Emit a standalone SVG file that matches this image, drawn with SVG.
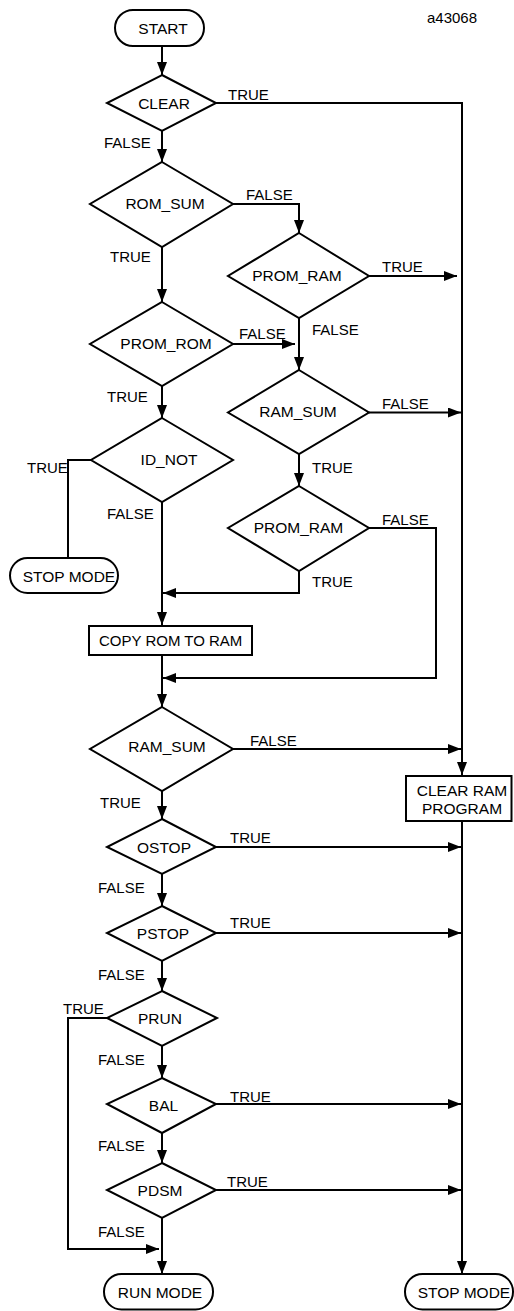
<svg xmlns="http://www.w3.org/2000/svg" width="514" height="1311" viewBox="0 0 514 1311">
<style>
.s{fill:#fff;stroke:#000;stroke-width:2}
.c{fill:none;stroke:#000;stroke-width:2}
.a{marker-end:url(#ah)}
text{font-family:"Liberation Sans",Arial,sans-serif;fill:#000}
.n{font-size:15.5px;text-anchor:middle}
.l{font-size:15px}
</style>
<defs>
<marker id="ah" markerUnits="userSpaceOnUse" markerWidth="13" markerHeight="10" refX="13" refY="5" orient="auto">
<path d="M0,0 L13,5 L0,10 z" fill="#000"/>
</marker>
</defs>
<rect width="514" height="1311" fill="#fff"/>
<text class="l" x="427" y="23">a43068</text>
<g id="connectors">
<path class="c a" d="M162,46 V75"/>
<path class="c" d="M216,103 H462 V775"/>
<path class="c a" d="M462,765 V775"/>
<path class="c a" d="M162,131 V162"/>
<path class="c a" d="M233,204 H299 V233"/>
<path class="c a" d="M162,247 V302"/>
<path class="c a" d="M369,276 H457"/>
<path class="c a" d="M233,344 H295"/>
<path class="c a" d="M299,318 V370"/>
<path class="c a" d="M369,412.5 H461"/>
<path class="c a" d="M162,386 V418"/>
<path class="c a" d="M299,454 V486"/>
<path class="c" d="M91,460 H68 V558"/>
<path class="c a" d="M162,502 V625"/>
<path class="c a" d="M299,571 V593 H163"/>
<path class="c a" d="M369,528 H436 V678 H163"/>
<path class="c a" d="M162,655 V707"/>
<path class="c a" d="M233,749 H461"/>
<path class="c a" d="M162,791 V819"/>
<path class="c a" d="M216,847 H461"/>
<path class="c a" d="M462,821 V1274"/>
<path class="c a" d="M162,874 V906"/>
<path class="c a" d="M216,933 H461"/>
<path class="c a" d="M162,961 V991"/>
<path class="c a" d="M107,1018 H68 V1249 H159"/>
<path class="c a" d="M162,1046 V1078"/>
<path class="c a" d="M216,1104 H461"/>
<path class="c a" d="M162,1133 V1163"/>
<path class="c a" d="M216,1190 H461"/>
<path class="c a" d="M162,1218 V1274"/>
</g>
<g id="labels">
<text class="l" x="228" y="100">TRUE</text>
<text class="l" x="104" y="148">FALSE</text>
<text class="l" x="246" y="200">FALSE</text>
<text class="l" x="382" y="272">TRUE</text>
<text class="l" x="110" y="262">TRUE</text>
<text class="l" x="239" y="339">FALSE</text>
<text class="l" x="312" y="335">FALSE</text>
<text class="l" x="382" y="409">FALSE</text>
<text class="l" x="107" y="402">TRUE</text>
<text class="l" x="27" y="473">TRUE</text>
<text class="l" x="107" y="519">FALSE</text>
<text class="l" x="312" y="473">TRUE</text>
<text class="l" x="382" y="525">FALSE</text>
<text class="l" x="312" y="587">TRUE</text>
<text class="l" x="250" y="746">FALSE</text>
<text class="l" x="100" y="808">TRUE</text>
<text class="l" x="230" y="843">TRUE</text>
<text class="l" x="98" y="893">FALSE</text>
<text class="l" x="230" y="928">TRUE</text>
<text class="l" x="98" y="980">FALSE</text>
<text class="l" x="63" y="1014">TRUE</text>
<text class="l" x="98" y="1065">FALSE</text>
<text class="l" x="230" y="1102">TRUE</text>
<text class="l" x="98" y="1151">FALSE</text>
<text class="l" x="227" y="1187">TRUE</text>
<text class="l" x="98" y="1237">FALSE</text>
</g>
<g id="start"><rect class="s" x="115" y="10" width="89" height="36" rx="18"/><text class="n" x="163" y="34">START</text></g>
<g id="clear"><polygon class="s" points="162,75 216,103 162,131 107,103"/><text class="n" x="164" y="109">CLEAR</text></g>
<g id="rom_sum"><polygon class="s" points="162,162 233,204 162,247 90,204"/><text class="n" x="165" y="209">ROM_SUM</text></g>
<g id="prom_rom"><polygon class="s" points="162,302 233,344 162,386 90,344"/><text class="n" x="166" y="349">PROM_ROM</text></g>
<g id="id_not"><polygon class="s" points="162,418 233,460 162,502 91,460"/><text class="n" x="169" y="465">ID_NOT</text></g>
<g id="prom_ram1"><polygon class="s" points="299,233 369,276 299,318 228,276"/><text class="n" x="297" y="281">PROM_RAM</text></g>
<g id="ram_sum1"><polygon class="s" points="299,370 369,412.5 299,454 228,412.5"/><text class="n" x="298" y="417">RAM_SUM</text></g>
<g id="prom_ram2"><polygon class="s" points="299,486 369,528 299,571 228,528"/><text class="n" x="298.5" y="533">PROM_RAM</text></g>
<g id="stop_mode1"><rect class="s" x="10" y="558" width="108" height="35" rx="17.5"/><text class="n" x="69" y="582">STOP MODE</text></g>
<g id="copy"><rect class="s" x="89" y="626" width="163" height="29"/><text class="l" x="99" y="646">COPY ROM TO RAM</text></g>
<g id="ram_sum2"><polygon class="s" points="162,707 233,749 162,791 90,749"/><text class="n" x="167" y="752">RAM_SUM</text></g>
<g id="clear_ram"><rect class="s" x="406" y="776" width="105.5" height="45"/><text class="n" x="462" y="796">CLEAR RAM</text><text class="n" x="462" y="814">PROGRAM</text></g>
<g id="ostop"><polygon class="s" points="162,819 216,847 162,874 107,847"/><text class="n" x="164" y="853">OSTOP</text></g>
<g id="pstop"><polygon class="s" points="162,906 216,933 162,961 107,933"/><text class="n" x="163" y="939">PSTOP</text></g>
<g id="prun"><polygon class="s" points="162,991 217,1018 162,1046 107,1018"/><text class="n" x="160" y="1024">PRUN</text></g>
<g id="bal"><polygon class="s" points="162,1078 216,1104 162,1133 107,1104"/><text class="n" x="163.5" y="1111">BAL</text></g>
<g id="pdsm"><polygon class="s" points="162,1163 216,1190 162,1218 107,1190"/><text class="n" x="160" y="1196">PDSM</text></g>
<g id="run_mode"><rect class="s" x="104" y="1274" width="109" height="35.5" rx="17.5"/><text class="n" x="160" y="1298">RUN MODE</text></g>
<g id="stop_mode2"><rect class="s" x="405" y="1274" width="108" height="35.5" rx="17.5"/><text class="n" x="464" y="1298">STOP MODE</text></g>
</svg>
